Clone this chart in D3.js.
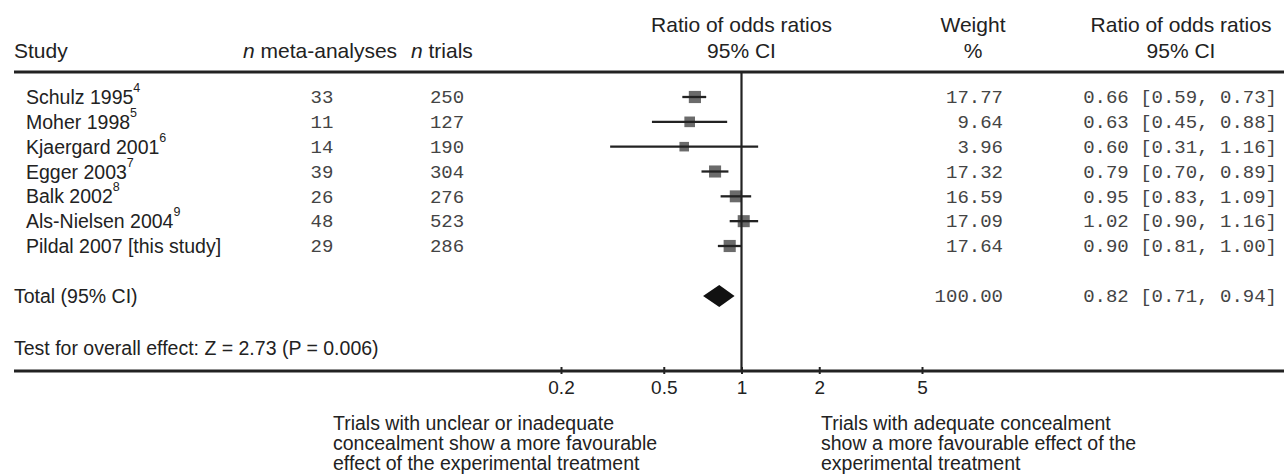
<!DOCTYPE html>
<html>
<head>
<meta charset="utf-8">
<style>
  body { margin: 0; background: #fff; }
  text { font-family: "Liberation Sans", Arial, sans-serif; fill: #222; }
  .mono { font-family: "Liberation Mono", "Courier New", monospace; fill: #444; font-size: 19px; }
</style>
</head>
<body>
<script src="https://cdn.jsdelivr.net/npm/d3@7"></script>
<script>
var width = 1284, height = 476;

// data
var studies = ["Schulz 1995", "Moher 1998", "Kjaergard 2001", "Egger 2003", "Balk 2002", "Als-Nielsen 2004", "Pildal 2007 [this study]"];
var refs = ["4", "5", "6", "7", "8", "9", ""];
var nMeta = [33, 11, 14, 39, 26, 48, 29];
var nTrials = [250, 127, 190, 304, 276, 523, 286];
var weights = [17.77, 9.64, 3.96, 17.32, 16.59, 17.09, 17.64];
var ror = [0.66, 0.63, 0.60, 0.79, 0.95, 1.02, 0.90];
var lower = [0.59, 0.45, 0.31, 0.70, 0.83, 0.90, 0.81];
var upper = [0.73, 0.88, 1.16, 0.89, 1.09, 1.16, 1.00];
var total = [0.82, 0.71, 0.94];   // estimate, lower, upper
var totalWeight = 100.00;
var ticks = [0.2, 0.5, 1, 2, 5];

var svg = d3.select("body").append("svg")
    .attr("width", width)
    .attr("height", height);

var x = d3.scaleLog().domain([0.2, 5]).range([561, 922]);
var y = d3.scalePoint().domain(d3.range(studies.length)).range([97, 246]);
var size = d3.scaleLinear().domain([0, 18]).range([8.8, 12.2]);
var fmt = d3.format(".2f");

var axisY = 371, topY = 72, totalY = 296;
var hSize = 21, bSize = 19.5;

// headers
svg.append("text").attr("x", 14).attr("y", 57.5).attr("font-size", hSize).text("Study");
var h1 = svg.append("text").attr("x", 243).attr("y", 57.5).attr("font-size", hSize);
h1.append("tspan").attr("font-style", "italic").text("n");
h1.append("tspan").text(" meta-analyses");
var h2 = svg.append("text").attr("x", 411).attr("y", 57.5).attr("font-size", hSize);
h2.append("tspan").attr("font-style", "italic").text("n");
h2.append("tspan").text(" trials");

function header2(cx, l1, l2) {
  svg.append("text").attr("x", cx).attr("y", 31.5).attr("font-size", hSize)
     .attr("text-anchor", "middle").text(l1);
  svg.append("text").attr("x", cx).attr("y", 57.5).attr("font-size", hSize)
     .attr("text-anchor", "middle").text(l2);
}
header2(x(1), "Ratio of odds ratios", "95% CI");
header2(973, "Weight", "%");
header2(1181, "Ratio of odds ratios", "95% CI");

svg.append("line").attr("x1", 14).attr("x2", width).attr("y1", topY).attr("y2", topY)
   .attr("stroke", "#222").attr("stroke-width", 3);

// rows
var rows = svg.append("g").selectAll("g").data(studies).join("g")
    .attr("transform", (d, i) => "translate(0," + y(i) + ")");

var nm = rows.append("text").attr("x", 26).attr("dy", "0.36em").attr("font-size", bSize);
nm.append("tspan").text(d => d);
nm.append("tspan").attr("font-size", 12.5).attr("dy", "-0.95em").text((d, i) => refs[i]);

rows.append("text").attr("class", "mono").attr("x", 322).attr("dy", "0.33em")
    .attr("text-anchor", "middle").text((d, i) => nMeta[i]);
rows.append("text").attr("class", "mono").attr("x", 447).attr("dy", "0.33em")
    .attr("text-anchor", "middle").text((d, i) => nTrials[i]);
rows.append("text").attr("class", "mono").attr("x", 1003).attr("dy", "0.33em")
    .attr("text-anchor", "end").text((d, i) => fmt(weights[i]));
rows.append("text").attr("class", "mono").attr("x", 1277).attr("dy", "0.33em")
    .attr("text-anchor", "end")
    .text((d, i) => fmt(ror[i]) + " [" + fmt(lower[i]) + ", " + fmt(upper[i]) + "]");

// squares and CI lines
rows.append("rect")
    .attr("x", (d, i) => x(ror[i]) - size(weights[i]) / 2)
    .attr("y", (d, i) => -size(weights[i]) / 2)
    .attr("width", (d, i) => size(weights[i]))
    .attr("height", (d, i) => size(weights[i]))
    .attr("fill", "#6b6b6b");
rows.append("line")
    .attr("x1", (d, i) => x(lower[i]))
    .attr("x2", (d, i) => x(upper[i]))
    .attr("stroke", "#222").attr("stroke-width", 2.3);

// total
svg.append("text").attr("x", 14).attr("y", totalY).attr("dy", "0.36em").attr("font-size", bSize)
   .text("Total (95% CI)");
svg.append("path")
   .attr("d", "M" + x(total[1]) + "," + totalY + "L" + x(total[0]) + "," + (totalY - 11) +
              "L" + x(total[2]) + "," + totalY + "L" + x(total[0]) + "," + (totalY + 11) + "Z")
   .attr("fill", "#111");
svg.append("text").attr("class", "mono").attr("x", 1003).attr("y", totalY).attr("dy", "0.33em")
   .attr("text-anchor", "end").text(fmt(totalWeight));
svg.append("text").attr("class", "mono").attr("x", 1277).attr("y", totalY).attr("dy", "0.33em")
   .attr("text-anchor", "end")
   .text(fmt(total[0]) + " [" + fmt(total[1]) + ", " + fmt(total[2]) + "]");

svg.append("text").attr("x", 14).attr("y", 348).attr("dy", "0.36em").attr("font-size", bSize)
   .text("Test for overall effect: Z = 2.73 (P = 0.006)");

// null line
svg.append("line").attr("x1", x(1)).attr("x2", x(1)).attr("y1", topY).attr("y2", axisY)
   .attr("stroke", "#222").attr("stroke-width", 2.2);

// axis
svg.append("line").attr("x1", 14).attr("x2", width).attr("y1", axisY).attr("y2", axisY)
   .attr("stroke", "#222").attr("stroke-width", 3);
var ax = svg.append("g").attr("transform", "translate(0," + axisY + ")")
   .call(d3.axisBottom(x).tickValues(ticks).tickFormat(d3.format("")).tickSize(0).tickPadding(10));
ax.select(".domain").remove();
ax.selectAll("text").attr("font-size", 19).attr("fill", "#222")
   .attr("font-family", "Liberation Sans, Arial, sans-serif");
ax.selectAll(".tick").append("line").attr("y1", -4).attr("y2", 3)
   .attr("stroke", "#222").attr("stroke-width", 2);

// footnotes
function block(x0, lines) {
  lines.forEach(function (l, i) {
    svg.append("text").attr("x", x0).attr("y", 423 + i * 20).attr("dy", "0.36em")
       .attr("font-size", bSize).text(l);
  });
}
block(333, ["Trials with unclear or inadequate", "concealment show a more favourable", "effect of the experimental treatment"]);
block(821, ["Trials with adequate concealment", "show a more favourable effect of the", "experimental treatment"]);
</script>
</body>
</html>
